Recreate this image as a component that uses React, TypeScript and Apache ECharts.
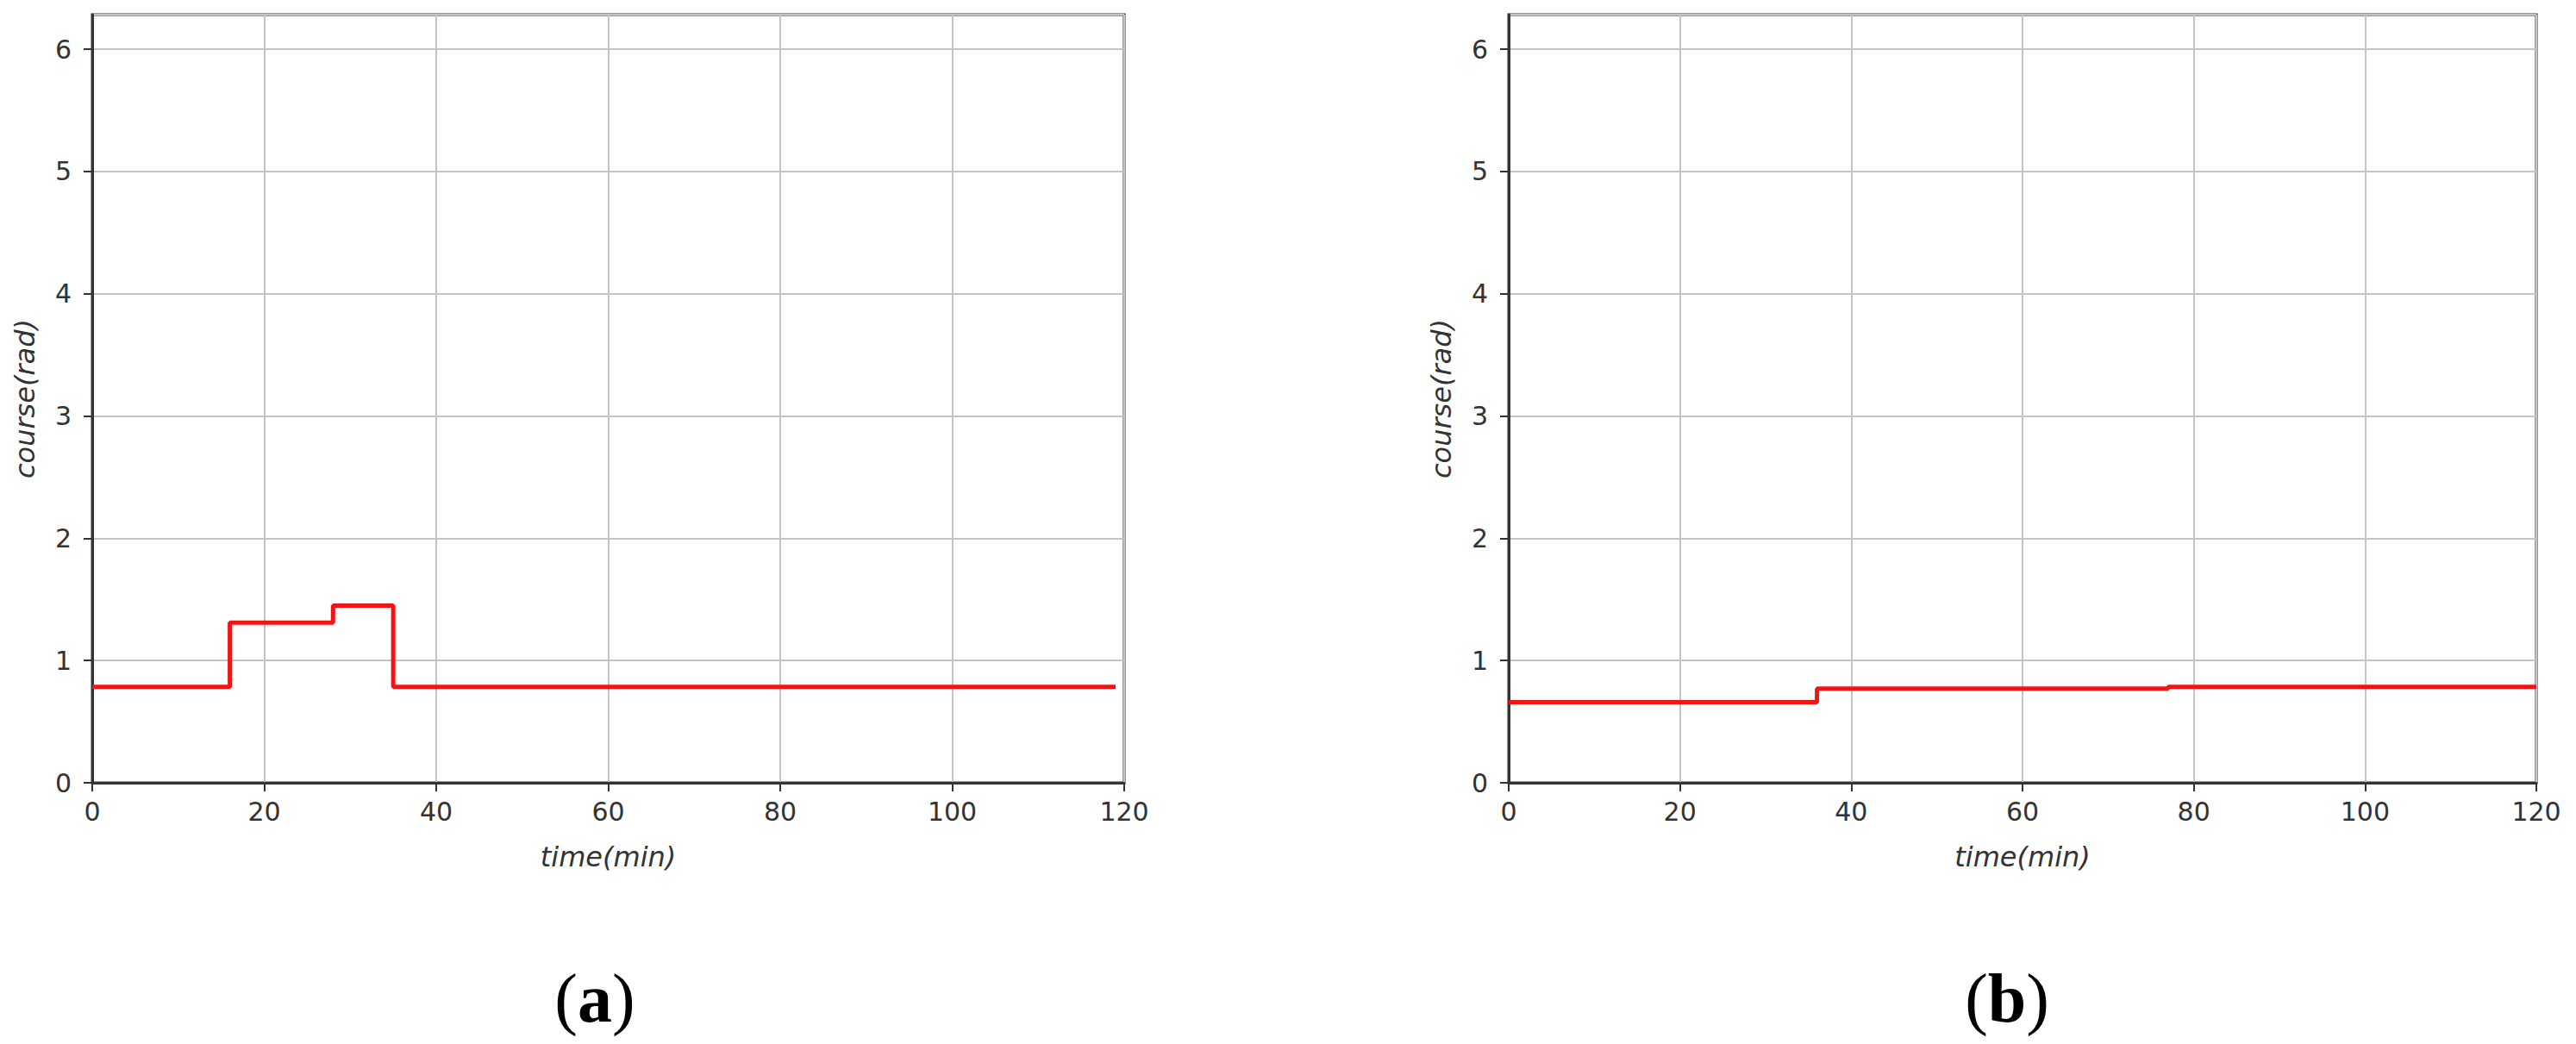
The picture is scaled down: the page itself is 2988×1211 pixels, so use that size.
import React, { useEffect, useRef } from "react";
import * as echarts from "echarts";

// ---- data ----
const timesA = [0, 16, 28, 35, 119];
const courseA = [0.785, 1.31, 1.45, 0.785, 0.785];
const timesB = [0, 36, 77, 120];
const courseB = [0.66, 0.77, 0.785, 0.785];
const xTicks = [0, 20, 40, 60, 80, 100, 120];
const yTicks = [0, 1, 2, 3, 4, 5, 6];
const panelLabels = ["a", "b"];
const xName = "time(min)";
const yName = "course(rad)";

const W = 2988;
const H = 1211;

export default function App() {
  const ref = useRef<HTMLDivElement>(null);
  useEffect(() => {
    if (!ref.current) return;
    const chart = echarts.init(ref.current, null, { renderer: "svg", width: W, height: H });
    const grids = [
      { left: 107, top: 17, width: 1197, height: 891 },
      { left: 1750, top: 17, width: 1192, height: 891 },
    ];
    const font = "DejaVu Sans";
    const mkX = (i: number) => ({
      type: "value",
      gridIndex: i,
      min: xTicks[0],
      max: xTicks[xTicks.length - 1],
      interval: 20,
      name: xName,
      nameLocation: "middle",
      nameGap: 70,
      nameTextStyle: { fontFamily: font, fontStyle: "italic", fontSize: 32, color: "#333" },
      axisLine: { show: true, onZero: false, lineStyle: { color: "#333", width: 3 } },
      axisTick: { show: true, inside: false, length: 10, lineStyle: { color: "#333", width: 2 } },
      axisLabel: { fontFamily: font, fontSize: 30, color: "#333", margin: 18 },
      splitLine: { show: true, lineStyle: { color: "#c4c4c4", width: 2 } },
    });
    const mkY = (i: number) => ({
      type: "value",
      gridIndex: i,
      min: 0,
      max: 2 * Math.PI,
      interval: 1,
      name: yName,
      nameLocation: "middle",
      nameRotate: 90,
      nameGap: 62,
      nameTextStyle: { fontFamily: font, fontStyle: "italic", fontSize: 32, color: "#333" },
      axisLine: { show: true, onZero: false, lineStyle: { color: "#333", width: 3 } },
      axisTick: { show: true, inside: false, length: 10, lineStyle: { color: "#333", width: 2 } },
      axisLabel: {
        fontFamily: font,
        fontSize: 30,
        color: "#333",
        margin: 24,
        showMaxLabel: false,
        formatter: (v: number) => (yTicks.includes(v) ? String(v) : ""),
      },
      splitLine: { show: true, lineStyle: { color: "#c4c4c4", width: 2 } },
    });
    const mkSeries = (i: number, xs: number[], ys: number[]) => ({
      type: "line",
      xAxisIndex: i,
      yAxisIndex: i,
      step: "end",
      symbol: "none",
      data: xs.map((x, k) => [x, ys[k]]),
      lineStyle: { color: "#f01515", width: 5 },
      z: 5,
    });
    const labelCenters = [690, 2328];
    chart.setOption({
      animation: false,
      backgroundColor: "#ffffff",
      grid: grids.map((g) => ({ ...g, show: true, borderColor: "#333", borderWidth: 3, backgroundColor: "transparent" })),
      xAxis: [mkX(0), mkX(1)],
      yAxis: [mkY(0), mkY(1)],
      series: [mkSeries(0, timesA, courseA), mkSeries(1, timesB, courseB)],
      graphic: panelLabels.map((l, i) => ({
        type: "text",
        x: labelCenters[i],
        y: 1158,
        style: {
          text: "{p|(}{b|" + l + "}{p|)}",
          align: "center",
          verticalAlign: "middle",
          rich: {
            p: { fontFamily: "Liberation Serif", fontSize: 80, fill: "#000", fontWeight: "normal" },
            b: { fontFamily: "Liberation Serif", fontSize: 80, fill: "#000", fontWeight: "bold" },
          },
        },
      })),
    });
    return () => chart.dispose();
  }, []);
  return (
    <div
      ref={ref}
      style={{ position: "fixed", left: 0, top: 0, width: W, height: H, background: "#fff" }}
    />
  );
}
